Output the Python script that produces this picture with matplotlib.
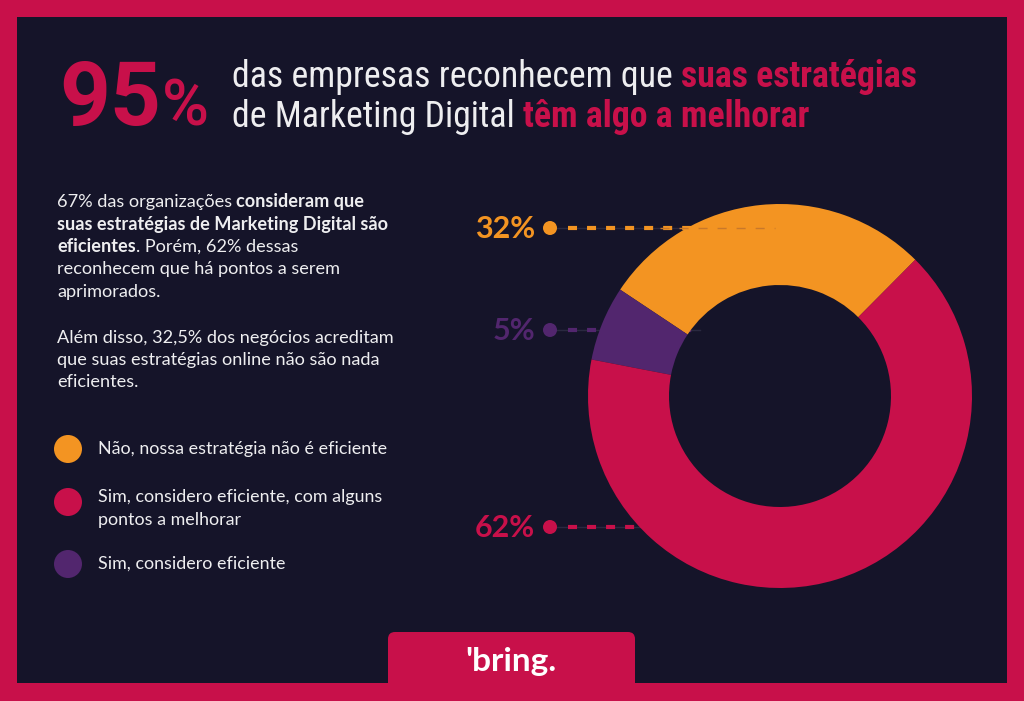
import matplotlib
matplotlib.use('Agg')
import matplotlib.pyplot as plt
from matplotlib import font_manager
from matplotlib.patches import Rectangle, FancyBboxPatch, Circle

W, H = 1024, 701

CRIMSON = '#C8104A'
ORANGE = '#F39422'
PURPLE = '#52266E'
DARK = '#151429'
WHITE = '#EEEEF0'

# printed percentages next to the donut
SHARE_LABELS = ['32%', '5%', '62%']
# wedge sizes as drawn in the donut (orange, purple, red), counter-clockwise from ~45 deg
WEDGE_SHARES = [28.1, 6.3, 65.6]
WEDGE_COLORS = [ORANGE, PURPLE, CRIMSON]

LEGEND_LABELS = ['Não, nossa estratégia não é eficiente',
                 'Sim, considero eficiente, com alguns\npontos a melhorar',
                 'Sim, considero eficiente']
LEGEND_COLORS = [ORANGE, CRIMSON, PURPLE]

BIG_NUMBER = '95'
HEAD_LINE1 = [('das empresas reconhecem que', 'normal', WHITE),
              ('suas estratégias', 'bold', CRIMSON)]
HEAD_LINE2 = [('de Marketing Digital', 'normal', WHITE),
              ('têm algo a melhorar', 'bold', CRIMSON)]

BODY = [
    [('67% das organizações', 'normal'), ('consideram que', 'bold')],
    [('suas estratégias de Marketing Digital são', 'bold')],
    [('eficientes', 'bold'), ('. Porém, 62% dessas', 'normal', 0)],
    [('reconhecem que há pontos a serem', 'normal')],
    [('aprimorados.', 'normal')],
    None,
    [('Além disso, 32,5% dos negócios acreditam', 'normal')],
    [('que suas estratégias online não são nada', 'normal')],
    [('eficientes.', 'normal')],
]

names = {f.name for f in font_manager.fontManager.ttflist}
BODY_FONT = 'Lato' if 'Lato' in names else 'DejaVu Sans'
BIG_FONT = 'Roboto' if 'Roboto' in names else BODY_FONT
HEAD_FONT = BODY_FONT
for cand in ['Roboto Condensed', 'Liberation Sans Narrow', 'Open Sans Condensed']:
    if cand in names:
        HEAD_FONT = cand
        break

plt.rcParams['lines.scale_dashes'] = False

fig = plt.figure(figsize=(W / 100, H / 100), dpi=100)
fig.patch.set_facecolor(CRIMSON)
bg = fig.add_axes([0, 0, 1, 1])
bg.set_xlim(0, W)
bg.set_ylim(H, 0)
bg.axis('off')
renderer = fig.canvas.get_renderer()

bg.add_patch(Rectangle((17, 17), 990, 666, facecolor=DARK, edgecolor='none', zorder=0))


def text_width(s, size, weight, family):
    t = bg.text(0, 0, s, fontsize=size, fontweight=weight, family=family)
    w = t.get_window_extent(renderer=renderer).width
    t.remove()
    return w


def space_width(size, weight, family):
    return text_width('a a', size, weight, family) - text_width('aa', size, weight, family)


def rich_line(x, y, parts, size, family):
    for i, part in enumerate(parts):
        txt, weight, color = part[0], part[1], part[2]
        gap = part[3] if len(part) > 3 else 1
        if i > 0 and gap:
            x += space_width(size, weight, family)
        t = bg.text(x, y, txt, color=color, fontsize=size, fontweight=weight,
                    family=family, va='baseline', ha='left', zorder=5)
        x = t.get_window_extent(renderer=renderer).x1
    return x


# ---- heading
bg.text(59, 125, BIG_NUMBER, color=CRIMSON, fontsize=64, fontweight='bold',
        fontstyle='normal', family=BIG_FONT, va='baseline', ha='left')
bg.text(162, 125, '%', color=CRIMSON, fontsize=46, fontweight='medium',
        fontstyle='normal', family=BIG_FONT, va='baseline', ha='left')

# fit heading font size to the line width of the reference
size = 27
n_before = len(bg.texts)
x_end = rich_line(-2000, -2000, HEAD_LINE1, size, HEAD_FONT)
for t in list(bg.texts)[n_before:]:
    t.remove()
size = size * 686 / (x_end + 2000)
rich_line(232, 87, HEAD_LINE1, size, HEAD_FONT)
rich_line(232, 127, HEAD_LINE2, size, HEAD_FONT)

# ---- body text
body_base = [207, 230, 252, 274, 297, None, 343, 365, 387]
for line, yb in zip(BODY, body_base):
    if line is None:
        continue
    parts = [(p[0], p[1], WHITE) + tuple(p[2:]) for p in line]
    rich_line(57, yb, parts, 13.1, BODY_FONT)

# ---- legend
legend_y = [449, 502, 564]
for lab, col, yc in zip(LEGEND_LABELS, LEGEND_COLORS, legend_y):
    bg.add_patch(Circle((68, yc), 14, facecolor=col, edgecolor='none', zorder=3))
    lines = lab.split('\n')
    if len(lines) == 1:
        bg.text(98, yc + 5, lines[0], color=WHITE, fontsize=12.9, family=BODY_FONT,
                va='baseline', ha='left')
    else:
        bg.text(98, yc, lines[0], color=WHITE, fontsize=12.9, family=BODY_FONT,
                va='baseline', ha='left')
        bg.text(98, yc + 23, lines[1], color=WHITE, fontsize=12.9, family=BODY_FONT,
                va='baseline', ha='left')

# ---- donut
cx, cy, R, r = 780, 396, 192, 111
don = fig.add_axes([(cx - R) / W, (H - cy - R) / H, 2 * R / W, 2 * R / H])
don.pie(WEDGE_SHARES, colors=WEDGE_COLORS, startangle=45.2, counterclock=True,
        radius=1, wedgeprops=dict(width=1 - r / R, edgecolor='none', linewidth=0))
don.set_xlim(-1, 1)
don.set_ylim(-1, 1)
don.axis('off')

# ---- callouts
label_y = [228, 330, 527]
label_col = [ORANGE, PURPLE, CRIMSON]
for lab, col, yl in zip(SHARE_LABELS, label_col, label_y):
    bg.plot([556, 700], [yl, yl], color='#2A2940', lw=1, zorder=1)
    bg.plot([568, 700], [yl, yl], color=col, lw=3, dashes=(6.5, 7.2),
            solid_capstyle='butt', zorder=2)
    bg.add_patch(Circle((550, yl), 7, facecolor=col, edgecolor='none', zorder=3))
    bg.text(535, yl + 10, lab, color=col, fontsize=22, fontweight='bold',
            family=BODY_FONT, va='baseline', ha='right')
# faint continuation of the top callout across the orange wedge
don.plot([660, 775], [228, 228], color='#C9782A', lw=1, dashes=(6.5, 7.2),
         transform=bg.transData, clip_on=False, zorder=5)

# ---- bottom tab with logo
bg.add_patch(FancyBboxPatch((388, 632), 247, 80,
                            boxstyle='round,pad=0,rounding_size=7',
                            facecolor=CRIMSON, edgecolor='none', zorder=4))
bg.text(511, 671, "'bring.", color='white', fontsize=24, fontweight='bold',
        family=BODY_FONT, va='baseline', ha='center', zorder=5)

fig.savefig('out.png', dpi=100, facecolor=CRIMSON)
